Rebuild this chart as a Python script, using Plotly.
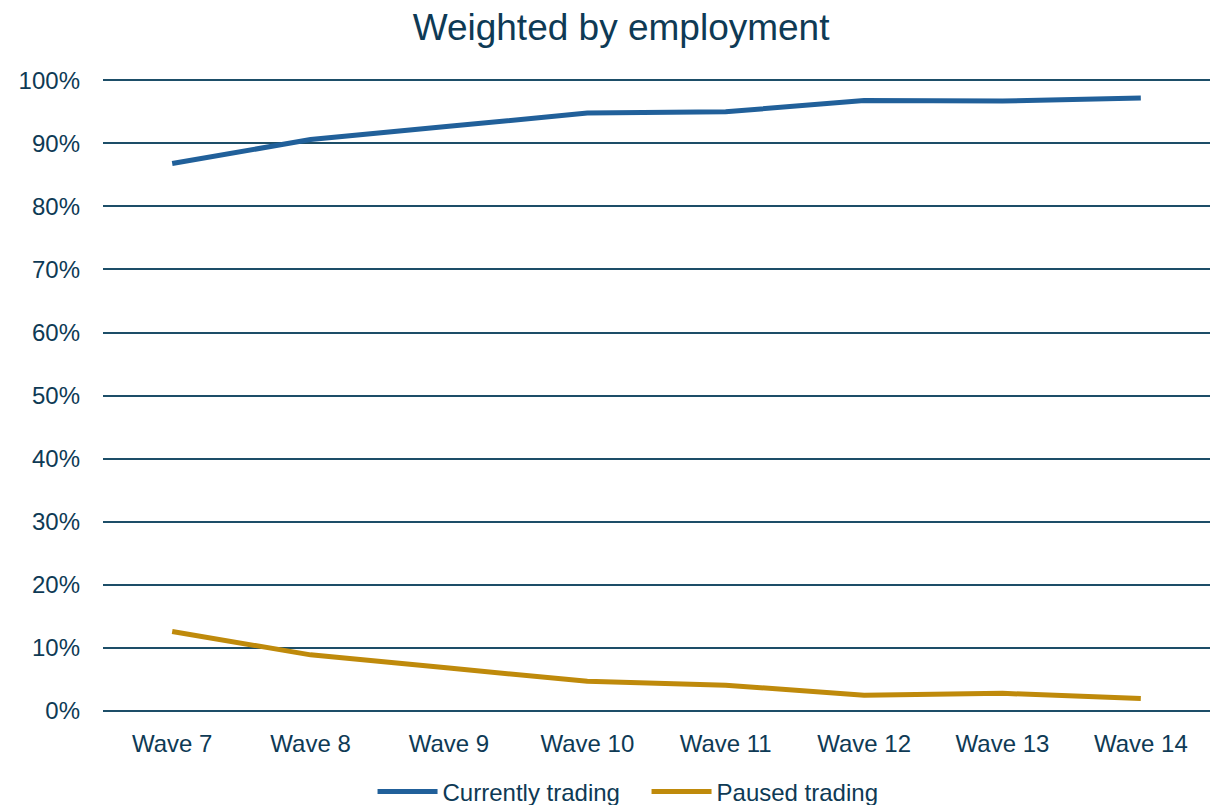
import plotly.graph_objects as go

waves = ["Wave 7", "Wave 8", "Wave 9", "Wave 10", "Wave 11", "Wave 12", "Wave 13", "Wave 14"]
currently_trading = [0.868, 0.906, 0.927, 0.948, 0.950, 0.968, 0.967, 0.972]
paused_trading = [0.126, 0.089, 0.068, 0.047, 0.041, 0.025, 0.028, 0.020]

TEXT = "#0E3A55"
GRID = "#1D4E68"

fig = go.Figure()
fig.add_trace(go.Scatter(x=waves, y=currently_trading, mode="lines", name="Currently trading",
                         line=dict(color="#21609A", width=5)))
fig.add_trace(go.Scatter(x=waves, y=paused_trading, mode="lines", name="Paused trading",
                         line=dict(color="#BF8A0B", width=5)))

fig.update_layout(
    width=1225, height=805,
    margin=dict(l=103, r=15, t=79, b=94, autoexpand=False),
    paper_bgcolor="white", plot_bgcolor="white",
    font=dict(family="Liberation Sans, Arial, sans-serif", color=TEXT, size=24),
    title=dict(text="Weighted by employment", x=0.507, xanchor="center", y=0.967, yanchor="middle",
               font=dict(size=37, color=TEXT)),
    legend=dict(orientation="h", x=0.491, xanchor="center", y=-0.128, yanchor="middle",
                font=dict(size=24, color=TEXT), itemwidth=60, entrywidth=199),
    showlegend=True,
)
fig.update_xaxes(type="category", range=[-0.5, 7.5], showgrid=False, showline=False, ticks="",
                 tickfont=dict(size=24, color=TEXT), ticklabelstandoff=16)
fig.update_yaxes(range=[0, 1.002], tickvals=[i / 10 for i in range(11)], tickformat=".0%",
                 showgrid=True, gridcolor=GRID,
                 gridwidth=1.5, zeroline=True, zerolinecolor=GRID, zerolinewidth=1.5,
                 showline=False, tickfont=dict(size=24, color=TEXT), ticklabelstandoff=22)

fig.write_html("out.html")
